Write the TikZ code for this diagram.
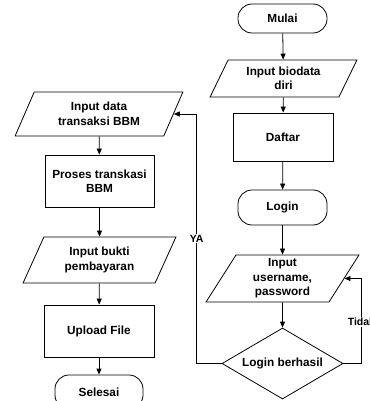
\documentclass[tikz,border=0pt]{standalone}
\usepackage{fontspec}
\setmainfont{Liberation Sans}
\usetikzlibrary{arrows.meta}
\usetikzlibrary{shapes.geometric}

\begin{document}
\begin{tikzpicture}[x=1pt, y=-1pt, line width=.8pt,
  box/.style={draw, align=center, inner sep=2pt, font=\fontsize{11.8}{14.5}\selectfont\bfseries},
  term/.style={box, rounded corners=14pt, minimum width=89pt},
  proc/.style={box, rectangle},
  io/.style={box, trapezium, trapezium left angle=65, trapezium right angle=115, trapezium stretches=true},
  cond/.style={box, diamond, aspect=1.7, inner sep=0pt, minimum width=121pt, minimum height=71pt},
  arr/.style={-{Triangle[length=6pt, width=5pt]}},
  lbl/.style={fill=white, inner sep=1pt, font=\fontsize{10.5}{12}\selectfont\bfseries}]
\useasboundingbox (0,0) rectangle (369,401);

\node[term, minimum height=29pt] (mulai) at (282.5,18.5) {Mulai};
\node[io, minimum width=147pt, minimum height=37pt] (biodata) at (283.5,78.5) {Input biodata\\diri};
\node[proc, minimum width=100pt, minimum height=48pt] (daftar) at (283,137) {Daftar};
\node[term, minimum height=35pt] (login) at (282.5,207.5) {Login};
\node[io, minimum width=153pt, minimum height=47pt] (userpass) at (282.5,278.5) {Input\\username,\\password};
\node[cond] (cek) at (282.5,363.5) {Login berhasil};

\node[io, minimum width=168pt, minimum height=44pt] (transaksi) at (99,114) {Input data\\transaksi BBM};
\node[proc, minimum width=109pt, minimum height=52pt] (proses) at (99.5,181) {Proses transkasi\\BBM};
\node[io, minimum width=153pt, minimum height=46pt] (bukti) at (99.5,260) {Input bukti\\pembayaran};
\node[proc, minimum width=110pt, minimum height=52pt] (upload) at (99,331) {Upload File};
\node[term, minimum width=88pt, minimum height=34pt] (selesai) at (99,392) {Selesai};

\foreach \a/\b in {mulai/biodata, biodata/daftar, daftar/login, login/userpass, userpass/cek,
                   transaksi/proses, proses/bukti, bukti/upload, upload/selesai}
  \draw[arr] (\a) -- (\b);

\draw[arr] (cek.west) -- ++(-25,0) |- (transaksi.east) node[lbl, pos=.25] {YA};
\draw[arr] (cek.east) -- ++(18,0) |- (userpass.east) node[lbl, pos=.245] {Tidak};
\end{tikzpicture}
\end{document}
